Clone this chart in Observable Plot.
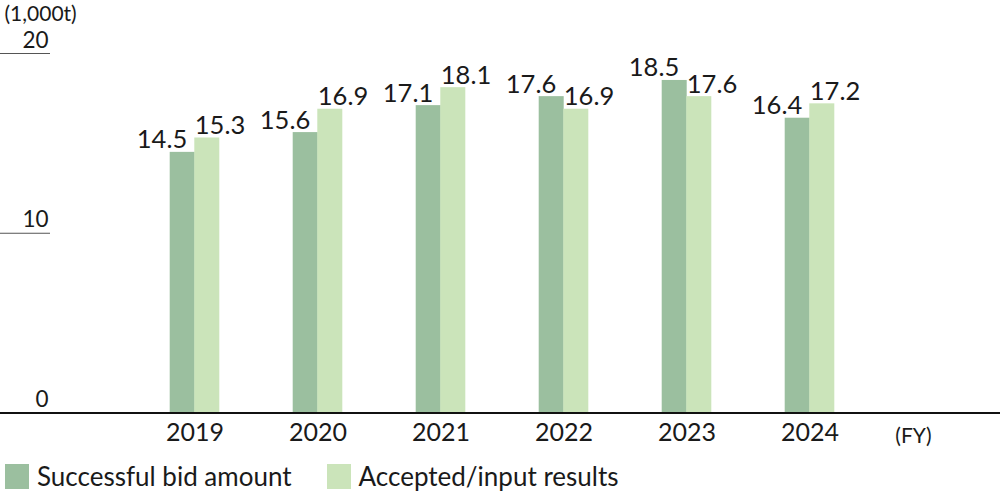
<!DOCTYPE html>
<html>
<head>
<meta charset="utf-8">
<script src="https://cdn.jsdelivr.net/npm/d3@7"></script>
<script src="https://cdn.jsdelivr.net/npm/@observablehq/plot@0.6"></script>
<style>
  html, body { margin: 0; padding: 0; background: #fff; }
  body { width: 1000px; height: 495px; overflow: hidden; font-family: Lato, "Noto Sans", sans-serif; font-weight: 400; color: #1a1a1a; }
  #legend { display: flex; align-items: center; height: 26px; margin-top: 8px; padding-left: 5px; font-size: 26px; }
  .item { display: flex; align-items: center; margin-right: 35px; }
  .sw { width: 24px; height: 25px; margin-right: 8px; }
</style>
</head>
<body>
<div id="chart"></div>
<div id="legend"></div>
<script>
const years = ["2019", "2020", "2021", "2022", "2023", "2024"];
const seriesNames = ["Successful bid amount", "Accepted/input results"];
const successfulBid = [14.5, 15.6, 17.1, 17.6, 18.5, 16.4];
const acceptedInput = [15.3, 16.9, 18.1, 16.9, 17.6, 17.2];
const colors = ["#9bbf9f", "#cbe4ba"];
const yTicks = [0, 10, 20];
const unitLabel = "(1,000t)";
const fyLabel = "(FY)";

const bid = years.map((y, i) => ({year: y, value: successfulBid[i]}));
const acc = years.map((y, i) => ({year: y, value: acceptedInput[i]}));

const font = "Lato, 'Noto Sans', sans-serif";

const chart = Plot.plot({
  width: 1000,
  height: 455,
  marginTop: 53,
  marginBottom: 42.5,
  marginLeft: 0,
  marginRight: 0,
  style: {fontFamily: font, fontWeight: 400, color: "#1a1a1a", background: "#fff", overflow: "visible"},
  x: {type: "band", domain: years, range: [132.5, 870.5], paddingInner: 0.8, paddingOuter: 0.4},
  y: {domain: [0, 20]},
  marks: [
    Plot.ruleY(yTicks.filter(t => t > 0), {stroke: "#555", strokeWidth: 1.2, insetRight: 950}),
    Plot.barY(bid, {x: "year", y: "value", fill: colors[0], dx: -12.3}),
    Plot.barY(acc, {x: "year", y: "value", fill: colors[1], dx: 12.3}),
    Plot.text(bid, {x: "year", y: "value", text: d => d.value.toFixed(1), dx: -33, dy: -4, lineAnchor: "bottom", fontSize: 25.5, fill: "#1a1a1a"}),
    Plot.text(acc, {x: "year", y: "value", text: d => d.value.toFixed(1), dx: 25, dy: -4, lineAnchor: "bottom", fontSize: 25.5, fill: "#1a1a1a"}),
    Plot.ruleY([0], {stroke: "#111", strokeWidth: 2}),
    Plot.axisY(yTicks, {anchor: "left", tickSize: 0, tickPadding: 0, dx: 48, dy: -13, fontSize: 22.5, label: null, tickFormat: d => String(d)}),
    Plot.axisX({anchor: "bottom", tickSize: 0, tickPadding: 10, fontSize: 25, label: null}),
    Plot.text([fyLabel], {frameAnchor: "bottom-right", dx: -87, dy: 30, textAnchor: "middle", fontSize: 21, fill: "#1a1a1a"}),
    Plot.text([unitLabel], {frameAnchor: "top-left", textAnchor: "start", dx: 4, dy: -47, fontSize: 21, fill: "#1a1a1a"})
  ]
});
document.getElementById("chart").appendChild(chart);

const legend = document.getElementById("legend");
seriesNames.forEach((name, i) => {
  const item = document.createElement("div");
  item.className = "item";
  const sw = document.createElement("span");
  sw.className = "sw";
  sw.style.background = colors[i];
  const label = document.createElement("span");
  label.textContent = name;
  item.appendChild(sw);
  item.appendChild(label);
  legend.appendChild(item);
});
</script>
</body>
</html>
